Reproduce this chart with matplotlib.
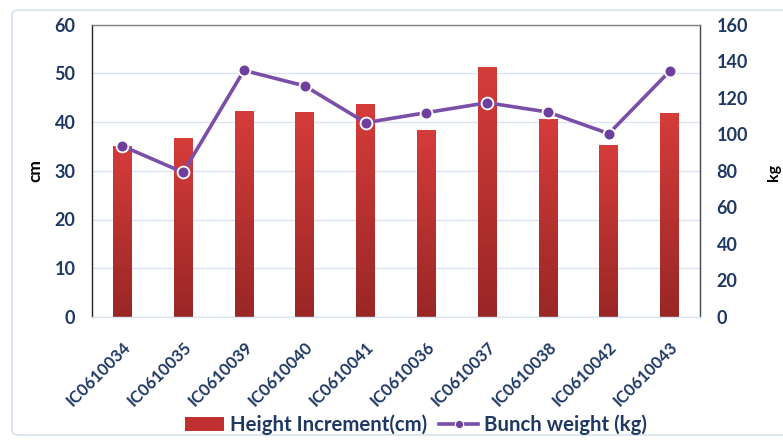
import matplotlib
matplotlib.use("Agg")
import matplotlib.pyplot as plt
import numpy as np
from matplotlib.patches import FancyBboxPatch, Patch
from matplotlib.lines import Line2D
from matplotlib.colors import LinearSegmentedColormap

plt.rcParams['font.family'] = ['Lato', 'DejaVu Sans']

accessions = ["IC0610034", "IC0610035", "IC0610039", "IC0610040", "IC0610041",
              "IC0610036", "IC0610037", "IC0610038", "IC0610042", "IC0610043"]
height_increment_cm = [35.1, 36.8, 42.3, 42.1, 43.6, 38.3, 51.3, 40.7, 35.3, 41.9]
bunch_weight_kg = [93.5, 79.1, 134.9, 126.4, 106.3, 111.8, 117.2, 112.1, 100.3, 134.4]

left_ticks = [0, 10, 20, 30, 40, 50, 60]
right_ticks = [0, 20, 40, 60, 80, 100, 120, 140, 160]

navy = "#1f3864"
purple = "#7b4fa8"
bar_top = "#d53c3a"
bar_bottom = "#992726"

W, H = 783, 443
fig = plt.figure(figsize=(W / 100, H / 100), dpi=100, facecolor="white")

# Light rounded frame around the chart area
frame = FancyBboxPatch((12 / W, 8 / H), (W + 20) / W, 425 / H,
                       boxstyle="round,pad=0,rounding_size=0.01",
                       transform=fig.transFigure, facecolor="none",
                       edgecolor="#d6e3f0", linewidth=1.2, zorder=-1)
fig.patches.append(frame)

ax = fig.add_axes([92 / W, 1 - 317 / H, 608 / W, (317 - 24.5) / H])
ax.set_facecolor("white")
x = np.arange(len(accessions))

bars = ax.bar(x, height_increment_cm, width=0.31, color=bar_top, zorder=2)

# Vertical gradient fill for each bar
cmap = LinearSegmentedColormap.from_list("barfade", [bar_bottom, bar_top])
grad = np.linspace(0, 1, 256).reshape(-1, 1)
for b in bars:
    x0, y0 = b.get_x(), b.get_y()
    w, h = b.get_width(), b.get_height()
    im = ax.imshow(grad, cmap=cmap, origin="lower", aspect="auto",
                   extent=(x0, x0 + w, y0, y0 + h), zorder=2.1)
    im.set_clip_path(b)

ax.set_xlim(-0.5, len(accessions) - 0.5)
ax.set_ylim(0, 60)
ax.set_yticks(left_ticks)
ax.yaxis.grid(True, color="#dbe5f1", linewidth=1.0, zorder=0)
ax.set_axisbelow(True)

ax.set_xticks(x)
ax.set_xticklabels(accessions, rotation=45, ha="right", rotation_mode="anchor",
                   fontsize=12, fontweight="bold", color=navy)
ax.tick_params(axis="x", length=0, pad=16)
ax.tick_params(axis="y", length=0, pad=12, labelsize=13, labelcolor=navy)
for t in ax.get_yticklabels():
    t.set_fontweight("bold")

ax.spines["left"].set_color("#222222")
ax.spines["top"].set_color("#808080")
ax.spines["right"].set_color("#444444")
ax.spines["bottom"].set_color("#dbe5f1")
for s in ax.spines.values():
    s.set_linewidth(1.0)

ax.set_ylabel("cm", fontsize=12.5, fontweight="bold", color="black", labelpad=8)

ax2 = ax.twinx()
ax2.set_ylim(0, 160)
ax2.set_yticks(right_ticks)
ax2.tick_params(axis="y", length=0, pad=12, labelsize=13, labelcolor=navy)
for t in ax2.get_yticklabels():
    t.set_fontweight("bold")
for s in ax2.spines.values():
    s.set_visible(False)
ax2.plot(x, bunch_weight_kg, color=purple, linewidth=2.6, marker="o",
         markersize=8.5, markerfacecolor="#6f3fa0", markeredgecolor="white",
         markeredgewidth=1.3, zorder=5)

fig.text(774 / W, 1 - 172 / H, "kg", rotation=90, ha="center", va="center",
         fontsize=11.5, fontweight="bold", color="black")

handles = [Patch(facecolor="#c03232", edgecolor="none"),
           Line2D([0], [0], color=purple, linewidth=2.6, marker="o",
                  markersize=6, markerfacecolor="#6f3fa0",
                  markeredgecolor="white", markeredgewidth=0.8)]
fig.legend(handles, ["Height Increment(cm)", "Bunch weight (kg)"],
           loc="center", bbox_to_anchor=(416 / W, 1 - 425 / H), ncol=2,
           frameon=False, handlelength=1.9, handletextpad=0.3,
           columnspacing=0.6,
           prop={"weight": "bold", "size": 14.7}, labelcolor=navy)

fig.savefig("out.png", dpi=100)
